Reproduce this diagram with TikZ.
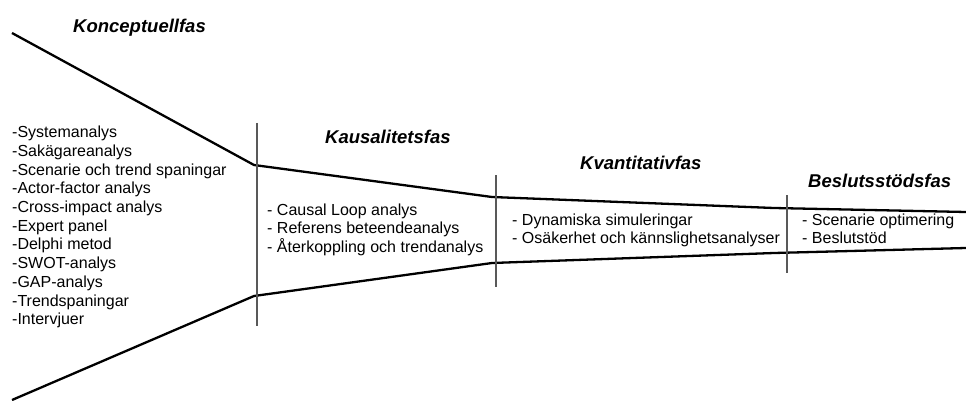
\documentclass[tikz,border=0pt]{standalone}
\usepackage{fontspec}
\setmainfont{Liberation Sans}
\begin{document}
\begin{tikzpicture}[x=1pt,y=-1pt,
  funnel/.style={line width=2.3pt,line join=round},
  divider/.style={line width=1.4pt,draw=black!65},
  phase/.style={anchor=base west,inner sep=0,font=\fontsize{18.5}{22}\selectfont\bfseries\itshape},
  items/.style={anchor=north west,inner sep=0,align=left,font=\fontsize{16}{18.7}\selectfont}]
\useasboundingbox (0,0) rectangle (966,401);
% outline of the funnel
\coordinate (t0) at (12,33);
\coordinate (t1) at (254,165);
\coordinate (t2) at (492,197);
\coordinate (t3) at (774,208);
\coordinate (t4) at (966,212);
\coordinate (b0) at (12,400);
\coordinate (b1) at (254,296);
\coordinate (b2) at (492,263);
\coordinate (b3) at (774,253);
\coordinate (b4) at (966,248);
\draw[funnel] (t0) -- (t1) -- (t2) -- (t3) -- (t4);
\draw[funnel] (b0) -- (b1) -- (b2) -- (b3) -- (b4);
% phase boundaries
\coordinate (d1a) at (257,123); \coordinate (d1b) at (257,326);
\coordinate (d2a) at (496,175); \coordinate (d2b) at (496,287);
\coordinate (d3a) at (787,195); \coordinate (d3b) at (787,273);
\draw[divider] (d1a) -- (d1b);
\draw[divider] (d2a) -- (d2b);
\draw[divider] (d3a) -- (d3b);
% phase titles
\node[phase] (konc) at (73,33) {Konceptuellfas};
\node[phase] (kaus) at (325,143) {Kausalitetsfas};
\node[phase] (kvan) at (580,169) {Kvantitativfas};
\node[phase] (besl) at (808,187) {Beslutsstödsfas};
% methods per phase
\node[items] (konclist) at (12,126) {-Systemanalys\\-Sakägareanalys\\-Scenarie och trend spaningar\\-Actor-factor analys\\-Cross-impact analys\\-Expert panel\\-Delphi metod\\-SWOT-analys\\-GAP-analys\\-Trendspaningar\\-Intervjuer};
\node[items] (kauslist) at (267,203.5) {- Causal Loop analys\\- Referens beteendeanalys\\- Återkoppling och trendanalys};
\node[items] (kvanlist) at (512,213.5) {- Dynamiska simuleringar\\- Osäkerhet och kännslighetsanalyser};
\node[items] (besllist) at (802,213.5) {- Scenarie optimering\\- Beslutstöd};
\end{tikzpicture}
\end{document}
